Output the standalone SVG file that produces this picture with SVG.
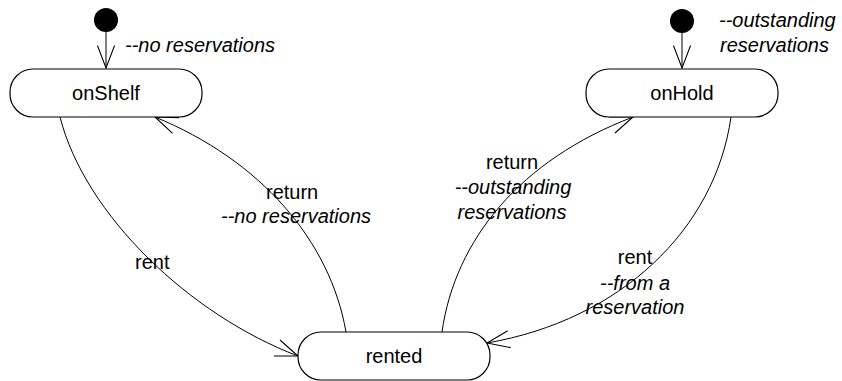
<svg xmlns="http://www.w3.org/2000/svg" width="842" height="381" viewBox="0 0 842 381">
  <style>
    .state { fill: #fff; stroke: #000; stroke-width: 1.2; }
    .init { fill: #000; }
    .edge { fill: none; stroke: #000; stroke-width: 1; }
    text { font-family: "Liberation Sans", Arial, sans-serif; font-size: 20px; fill: #000; }
    .name { text-anchor: middle; }
    .note { font-style: italic; }
    .mid { text-anchor: middle; }
  </style>
  <defs>
    <marker id="open" markerUnits="userSpaceOnUse" orient="auto" markerWidth="30" markerHeight="30" viewBox="-24 -12 28 24" refX="0" refY="0" overflow="visible">
      <path d="M-21,-8 L0,0 L-21,8" fill="none" stroke="#000" stroke-width="1"/>
    </marker>
  </defs>

  <rect width="842" height="381" fill="#fff"/>

  <g id="connectors">
    <!-- initial transitions -->
    <line class="edge" x1="106" y1="31" x2="106" y2="68" marker-end="url(#open)"/>
    <line class="edge" x1="682" y1="32" x2="682" y2="68" marker-end="url(#open)"/>
    <!-- onShelf -> rented -->
    <path class="edge" d="M60,117 C85,215 190,315 298,356" marker-end="url(#open)"/>
    <!-- rented -> onShelf -->
    <path class="edge" d="M346,332 C330,240 260,160 155,117" marker-end="url(#open)"/>
    <!-- rented -> onHold -->
    <path class="edge" d="M442,332 C455,240 520,160 633,117" marker-end="url(#open)"/>
    <!-- onHold -> rented -->
    <path class="edge" d="M731,117 C715,230 620,320 487,343" marker-end="url(#open)"/>
  </g>

  <g id="init-shelf">
    <circle class="init" cx="106" cy="20" r="12"/>
    <text class="note" x="125" y="52">--no reservations</text>
  </g>

  <g id="init-hold">
    <circle class="init" cx="682" cy="21" r="12"/>
    <text class="note" x="719" y="27">--outstanding</text>
    <text class="note" x="720" y="52">reservations</text>
  </g>

  <g id="onShelf">
    <rect class="state" x="10" y="69" width="192" height="48" rx="23" ry="23"/>
    <text class="name" x="106" y="100">onShelf</text>
  </g>

  <g id="onHold">
    <rect class="state" x="586" y="69" width="192" height="48" rx="23" ry="23"/>
    <text class="name" x="682" y="100">onHold</text>
  </g>

  <g id="rented">
    <rect class="state" x="298" y="332" width="192" height="48" rx="23" ry="23"/>
    <text class="name" x="394" y="363">rented</text>
  </g>

  <g id="labels">
    <text x="135" y="269">rent</text>
    <text x="266" y="199">return</text>
    <text class="note" x="221" y="223">--no reservations</text>
    <text class="mid" x="512" y="169">return</text>
    <text class="note mid" x="513" y="194">--outstanding</text>
    <text class="note mid" x="512" y="219">reservations</text>
    <text class="mid" x="635" y="264">rent</text>
    <text class="note mid" x="635" y="290">--from a</text>
    <text class="note mid" x="635" y="314">reservation</text>
  </g>
</svg>
